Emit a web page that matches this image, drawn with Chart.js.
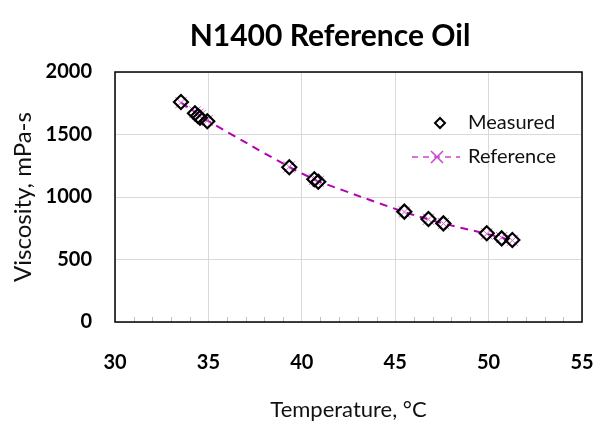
<!DOCTYPE html>
<html>
<head>
<meta charset="utf-8">
<script src="https://cdn.jsdelivr.net/npm/chart.js@4"></script>
<style>
  html, body { margin: 0; padding: 0; background: #fff; }
  #wrap { width: 596px; height: 423px; }
</style>
</head>
<body>
<div id="wrap"><canvas id="viscChart" width="596" height="423"></canvas></div>
<script>
// Temperature (°C) of each measurement
const temps = [33.53, 34.28, 34.44, 34.55, 34.94, 39.33, 40.67, 40.88, 45.49, 46.78, 47.58, 49.9, 50.7, 51.27];
// Measured viscosity, mPa-s
const measured = [1760, 1670, 1648, 1634, 1606, 1238, 1142, 1122, 883, 824, 789, 710, 669, 656];
// Reference viscosity, mPa-s
const reference = [1755, 1680, 1662, 1650, 1612, 1240, 1140, 1125, 880, 822, 788, 705, 675, 652];

const xTicks = [30, 35, 40, 45, 50, 55];
const yTicks = [0, 500, 1000, 1500, 2000];

const FONT = 'Lato, "Open Sans", sans-serif';
const MAGENTA = '#b400b4';

// Titre, légende et cadre dessinés à la main
const decor = {
    id: 'decor',
    afterDraw(chart) {
        const ctx = chart.ctx;
        const a = chart.chartArea;
        const xs = chart.scales.x;
        ctx.save();

        // petites graduations de l'axe x
        ctx.strokeStyle = '#bfbfbf';
        ctx.lineWidth = 1;
        for (let v = 31; v < 55; v++) {
            if (v % 5 === 0) continue;
            const px = Math.round(xs.getPixelForValue(v)) + 0.5;
            ctx.beginPath();
            ctx.moveTo(px, a.bottom);
            ctx.lineTo(px, a.bottom - 5);
            ctx.stroke();
        }

        // cadre
        ctx.strokeStyle = '#000';
        ctx.lineWidth = 1.5;
        ctx.strokeRect(a.left, a.top, a.right - a.left, a.bottom - a.top);

        // titre
        ctx.fillStyle = '#000';
        ctx.font = 'bold 30px ' + FONT;
        ctx.textAlign = 'center';
        ctx.textBaseline = 'middle';
        ctx.fillText('N1400 Reference Oil', 330, 36);

        // légende
        ctx.fillStyle = '#111';
        ctx.font = '20px ' + FONT;
        ctx.textAlign = 'left';
        ctx.fillText('Measured', 468, 123);
        ctx.fillText('Reference', 468, 157);

        ctx.strokeStyle = '#000';
        ctx.lineWidth = 2;
        ctx.beginPath();
        ctx.moveTo(440, 118);
        ctx.lineTo(445, 123);
        ctx.lineTo(440, 128);
        ctx.lineTo(435, 123);
        ctx.closePath();
        ctx.stroke();

        ctx.strokeStyle = '#cc44cc';
        ctx.lineWidth = 1.5;
        ctx.setLineDash([6, 5]);
        ctx.beginPath();
        ctx.moveTo(412, 157);
        ctx.lineTo(460, 157);
        ctx.stroke();
        ctx.setLineDash([]);
        ctx.beginPath();
        ctx.moveTo(431, 151);
        ctx.lineTo(443, 163);
        ctx.moveTo(443, 151);
        ctx.lineTo(431, 163);
        ctx.stroke();

        ctx.restore();
    }
};

const ctx = document.getElementById('viscChart').getContext('2d');
const viscChart = new Chart(ctx, {
    type: 'scatter',
    data: {
        datasets: [{
            label: 'Measured',
            data: temps.map((t, i) => ({ x: t, y: measured[i] })),
            pointStyle: 'rectRot',
            radius: 7,
            borderColor: '#000',
            backgroundColor: 'rgba(0,0,0,0)',
            borderWidth: 2.2,
            showLine: false,
            order: 0
        }, {
            label: 'Reference',
            data: temps.map((t, i) => ({ x: t, y: reference[i] })),
            pointStyle: 'crossRot',
            radius: 8,
            pointBorderColor: '#d060d0',
            pointBorderWidth: 1,
            borderColor: MAGENTA,
            borderWidth: 2,
            borderDash: [8, 6],
            showLine: true,
            tension: 0.4,
            order: 1
        }]
    },
    options: {
        responsive: false,
        animation: false,
        layout: { padding: { top: 72, right: 14, left: 0, bottom: 0 } },
        plugins: {
            legend: { display: false },
            tooltip: { enabled: false }
        },
        scales: {
            x: {
                type: 'linear',
                min: 30,
                max: 55,
                afterBuildTicks: (s) => { s.ticks = xTicks.map(v => ({ value: v })); },
                afterFit: (s) => { s.height = 101; s.paddingLeft = 0; s.paddingRight = 0; },
                grid: { color: '#d9d9d9', drawTicks: false },
                border: { display: false },
                ticks: { padding: 29, color: '#000', font: { family: FONT, size: 20, weight: 'bold' } },
                title: {
                    display: true,
                    text: 'Temperature, °C',
                    color: '#111',
                    padding: { top: 1, bottom: 0 },
                    font: { family: FONT, size: 22 }
                }
            },
            y: {
                min: 0,
                max: 2000,
                afterBuildTicks: (s) => { s.ticks = yTicks.map(v => ({ value: v })); },
                afterFit: (s) => { s.width = 115; },
                grid: { color: '#d9d9d9', drawTicks: false },
                border: { display: false },
                ticks: {
                    padding: 23,
                    color: '#000',
                    font: { family: FONT, size: 20, weight: 'bold' },
                    callback: (v) => String(v)
                },
                title: {
                    display: true,
                    text: 'Viscosity, mPa-s',
                    color: '#111',
                    padding: { top: 9, bottom: 0 },
                    font: { family: FONT, size: 24 }
                }
            }
        }
    },
    plugins: [decor]
});
</script>
</body>
</html>
